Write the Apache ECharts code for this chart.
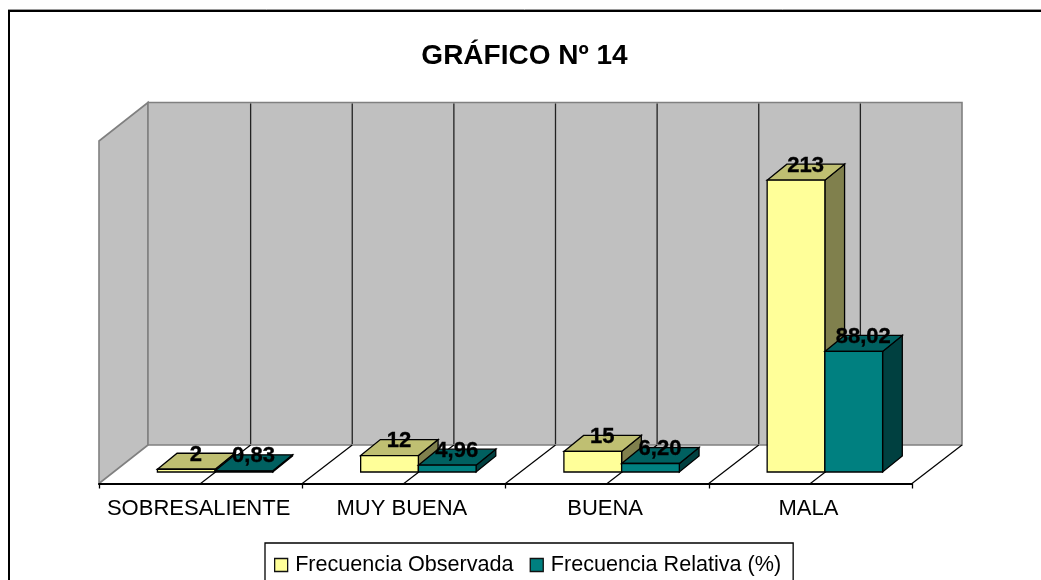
<!DOCTYPE html>
<html><head><meta charset="utf-8">
<style>html,body{margin:0;padding:0;background:#fff}#c{width:1041px;height:580px}</style>
<script src="https://cdn.jsdelivr.net/npm/echarts@6/dist/echarts.min.js"></script>
</head><body><div id="c"></div>
<script>
const categories = ['SOBRESALIENTE', 'MUY BUENA', 'BUENA', 'MALA'];
const observed = [2, 12, 15, 213];
const relative = [0.83, 4.96, 6.20, 88.02];
const FONT = '"Liberation Sans", Arial, sans-serif';

// oblique projection used to fake Excel's 3D look
const WALL_DX = 49, GRID_DX = 50, WALL_DY = -38.5, BAR_DX = 14.5, BAR_DY = -11.5, DEPTH_DX = 19.7, DEPTH_DY = -16, BAR_FRAC = 0.284;

function wallItem(params, api) {
  const r = params.coordSys, L = r.x, B = r.y + r.height, T = r.y, R = r.x + r.width;
  const kids = [];
  const edge = { stroke: '#808080', lineWidth: 1.6 };
  kids.push({ type: 'polygon', shape: { points: [[L, B], [L, T], [L + WALL_DX, T + WALL_DY], [L + WALL_DX, B + WALL_DY]] }, style: Object.assign({ fill: '#C0C0C0' }, edge) });
  kids.push({ type: 'polygon', shape: { points: [[L + WALL_DX, B + WALL_DY], [L + WALL_DX, T + WALL_DY], [R + GRID_DX, T + WALL_DY], [R + GRID_DX, B + WALL_DY]] }, style: Object.assign({ fill: '#C0C0C0' }, edge) });
  const step = r.width / (categories.length * 2);
  for (let i = 1; i <= categories.length * 2; i++) {
    const x = L + i * step;
    if (i < categories.length * 2) {
      kids.push({ type: 'line', shape: { x1: x + GRID_DX, y1: T + WALL_DY + 1, x2: x + GRID_DX, y2: B + WALL_DY - 1 }, style: { stroke: '#222', lineWidth: 1.3 } });
    }
    kids.push({ type: 'line', shape: { x1: x, y1: B, x2: x + GRID_DX, y2: B + WALL_DY }, style: { stroke: '#000', lineWidth: 1.2 } });
  }
  return { type: 'group', children: kids };
}

function barRenderer(side, colors, decimals) {
  return function (params, api) {
    const idx = api.value(0), val = api.value(1);
    const top = api.coord([idx, val]), base = api.coord([idx, 0]);
    const w = api.size([1, 0])[0] * BAR_FRAC;
    const x0 = top[0] + BAR_DX + (side < 0 ? -w : 0), x1 = x0 + w;
    const yT = top[1] + BAR_DY, yB = base[1] + BAR_DY;
    const line = { stroke: '#000', lineWidth: 1.3 };
    const txt = decimals ? val.toFixed(decimals).replace('.', ',') : String(val);
    return { type: 'group', children: [
      { type: 'polygon', shape: { points: [[x1, yT], [x1 + DEPTH_DX, yT + DEPTH_DY], [x1 + DEPTH_DX, yB + DEPTH_DY], [x1, yB]] }, style: Object.assign({ fill: colors[2] }, line) },
      { type: 'polygon', shape: { points: [[x0, yT], [x0 + DEPTH_DX, yT + DEPTH_DY], [x1 + DEPTH_DX, yT + DEPTH_DY], [x1, yT]] }, style: Object.assign({ fill: colors[1] }, line) },
      { type: 'rect', shape: { x: x0, y: yT, width: w, height: yB - yT }, style: Object.assign({ fill: colors[0] }, line) },
      { type: 'text', z2: 50, style: { text: txt, x: (x0 + x1) / 2 + 9.5, y: yT - 14.5, align: 'center', verticalAlign: 'middle', fill: '#000', stroke: '#000', lineWidth: 0.35, font: 'bold 22px ' + FONT } }
    ] };
  };
}

const YEL = ['#FFFF99', '#BFBF72', '#80804D'], TEAL = ['#008080', '#006060', '#004040'];
const toData = arr => arr.map((v, i) => [i, v]);

const chart = echarts.init(document.getElementById('c'), null, { renderer: 'canvas' });
chart.setOption({
  animation: false,
  backgroundColor: '#fff',
  title: { text: 'GRÁFICO Nº 14', left: 519.5, top: 37, textAlign: 'center', textStyle: { fontFamily: FONT, fontWeight: 'bold', fontSize: 28, color: '#000' } },
  grid: { left: 99, top: 141, width: 813, height: 342.5 },
  xAxis: { type: 'category', data: categories, z: 5,
    axisLine: { show: true, onZero: false, lineStyle: { color: '#000', width: 2 } },
    axisTick: { show: true, alignWithLabel: false, length: 5, lineStyle: { color: '#000', width: 1.3 } },
    axisLabel: { show: true, fontFamily: FONT, fontSize: 22, color: '#000', margin: 14, interval: 0, padding: [0, 4, 0, 0] },
    splitLine: { show: false } },
  yAxis: { type: 'value', min: 0, max: 250, show: false, splitLine: { show: false } },
  legend: { left: 265, top: 543, data: ['Frecuencia Observada', 'Frecuencia Relativa (%)'], orient: 'horizontal', icon: 'rect',
    itemWidth: 13, itemHeight: 13, itemGap: 16, selectedMode: false,
    padding: [11, 12, 40, 9], borderColor: '#000', borderWidth: 1.3,
    textStyle: { fontFamily: FONT, fontSize: 21.6, color: '#000', padding: [0, 0, 0, 2.5] },
    itemStyle: { borderColor: '#111', borderWidth: 1.3 } },
  graphic: [
    { type: 'line', silent: true, shape: { x1: 8, y1: 9.5, x2: 1041, y2: 9.5 }, style: { stroke: '#9a9a9a', lineWidth: 1 } },
    { type: 'polyline', silent: true, shape: { points: [[9, 590], [9, 11], [1050, 11]] }, style: { stroke: '#000', lineWidth: 2, fill: null } }
  ],
  series: [
    { type: 'custom', name: 'walls', z: 1, silent: true, clip: false, renderItem: wallItem, data: [[0, 0]], encode: { x: 0, y: 1 } },
    { type: 'custom', name: 'Frecuencia Observada', z: 3, clip: false, renderItem: barRenderer(-1, YEL, 0), data: toData(observed), itemStyle: { color: YEL[0] }, encode: { x: 0, y: 1 } },
    { type: 'custom', name: 'Frecuencia Relativa (%)', z: 4, clip: false, renderItem: barRenderer(1, TEAL, 2), data: toData(relative), itemStyle: { color: TEAL[0] }, encode: { x: 0, y: 1 } }
  ]
});
</script></body></html>
